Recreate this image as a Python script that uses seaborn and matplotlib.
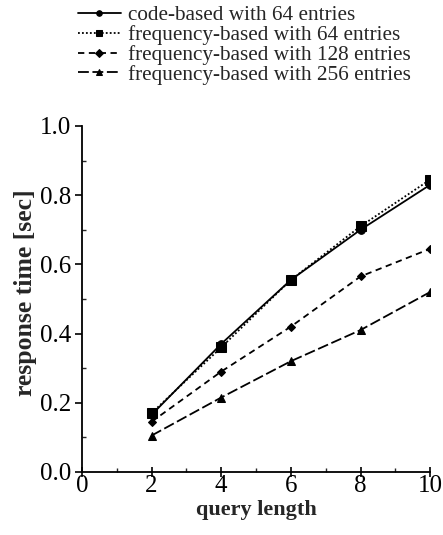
import matplotlib
matplotlib.use("Agg")
import matplotlib.pyplot as plt
import seaborn as sns
import pandas as pd
from matplotlib.ticker import MultipleLocator

query_length = [2, 4, 6, 8, 10]
series_names = [
    "code-based with 64 entries",
    "frequency-based with 64 entries",
    "frequency-based with 128 entries",
    "frequency-based with 256 entries",
]
code_64 = [0.165, 0.370, 0.555, 0.700, 0.830]
freq_64 = [0.170, 0.360, 0.555, 0.710, 0.845]
freq_128 = [0.145, 0.290, 0.420, 0.565, 0.645]
freq_256 = [0.105, 0.215, 0.320, 0.410, 0.520]

rows = []
for name, vals in zip(series_names, [code_64, freq_64, freq_128, freq_256]):
    for x, y in zip(query_length, vals):
        rows.append({"query length": x, "response time [sec]": y, "series": name})
df = pd.DataFrame(rows)

sns.set_theme(style="ticks")
plt.rcParams["font.family"] = ["Liberation Serif", "DejaVu Serif"]

fig = plt.figure(figsize=(4.43, 5.35), dpi=100)
ax = fig.add_axes([0.185, 0.118, 0.786, 0.6465])

markers = {series_names[0]: "o", series_names[1]: "s", series_names[2]: "D", series_names[3]: "^"}
dashes = {series_names[0]: "", series_names[1]: (1, 1.2), series_names[2]: (3.5, 2.5), series_names[3]: (6, 2)}
msize = {series_names[0]: 5.5, series_names[1]: 6.5, series_names[2]: 4.2, series_names[3]: 5.5}

sns.lineplot(data=df, x="query length", y="response time [sec]", hue="series",
             style="series", markers=markers, dashes=dashes,
             palette=["black"] * 4, linewidth=1.3,
             markeredgecolor="black", ax=ax, legend=True)

data_lines = [l for l in ax.get_lines() if len(l.get_xdata()) == len(query_length)]
for l, name in zip(data_lines, series_names):
    l.set_markersize(msize[name])

ax.set_xlim(0, 10)
ax.set_ylim(0, 1.0)
ax.xaxis.set_major_locator(MultipleLocator(2))
ax.xaxis.set_minor_locator(MultipleLocator(1))
ax.yaxis.set_minor_locator(MultipleLocator(0.1))
ax.set_yticks([0, 0.2, 0.4, 0.6, 0.8, 1.0])
ax.set_yticklabels(["0.0", "0.2", "0.4", "0.6", "0.8", "1.0"])
ax.tick_params(axis="x", which="major", direction="inout", length=7, width=1.2, labelsize=18, pad=-1, colors="black")
ax.tick_params(axis="y", which="major", direction="out", length=5, width=1.2, labelsize=18, pad=3, colors="black")
ax.tick_params(which="minor", direction="in", length=3, width=1)
for s in ["top", "right"]:
    ax.spines[s].set_visible(False)
for s in ["left", "bottom"]:
    ax.spines[s].set_linewidth(1.3)
    ax.spines[s].set_color("black")
ax.set_xlabel("query length", fontsize=16, fontweight="bold", labelpad=2)
ax.set_ylabel("response time [sec]", fontsize=18.5, fontweight="bold", labelpad=2)
ax.yaxis.label.set_y(0.517)

handles, labels = ax.get_legend_handles_labels()
leg = ax.legend(handles, labels, loc="upper left", bbox_to_anchor=(0.157, 1.006),
                bbox_transform=fig.transFigure, frameon=False, fontsize=15.3,
                handlelength=2.0, handletextpad=0.35, labelspacing=0.0, borderaxespad=0)
for h in leg.legend_handles:
    h.set_markersize(4)

fig.savefig("out.png", dpi=100)
